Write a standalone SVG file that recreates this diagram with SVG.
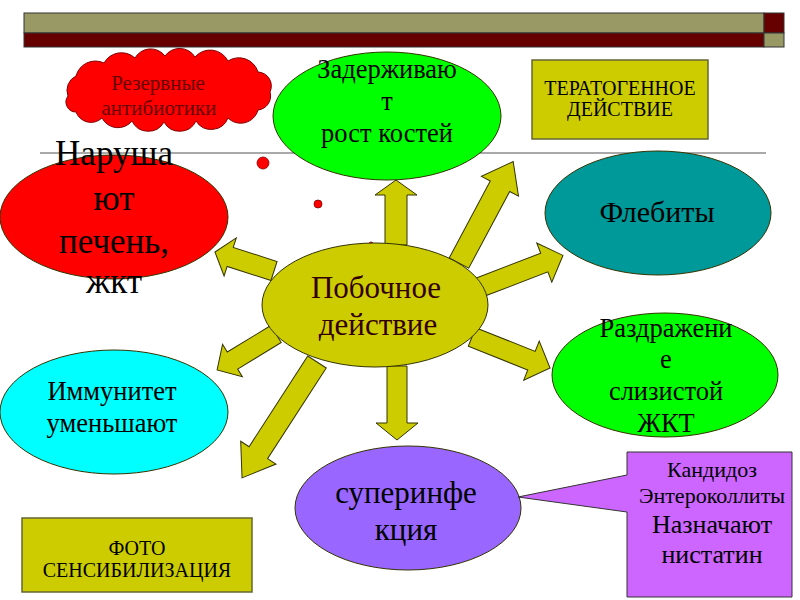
<svg xmlns="http://www.w3.org/2000/svg" width="800" height="600" viewBox="0 0 800 600" font-family="'Liberation Serif', 'DejaVu Serif', 'Times New Roman', serif">
<style>
text{font-family:'Liberation Serif','DejaVu Serif','Times New Roman',serif;text-anchor:middle;fill:#000}
.node{stroke:#333300;stroke-width:1}
.arrow{fill:#CCCC00;stroke:#333300;stroke-width:1;stroke-linejoin:miter}
.box{fill:#CCCC00;stroke:#666633;stroke-width:1.5}
</style>
<rect width="800" height="600" fill="#fff"/>
<g id="topbar">
<rect x="24" y="13" width="740" height="20" fill="#999966" stroke="#333" stroke-width="1"/>
<rect x="24" y="33" width="740" height="14" fill="#660000" stroke="#333" stroke-width="1"/>
<rect x="764" y="13" width="20" height="20" fill="#660000" stroke="#333" stroke-width="1"/>
<rect x="764" y="33" width="20" height="14" fill="#999966" stroke="#333" stroke-width="1"/>
</g>
<line x1="40" y1="153" x2="766" y2="153" stroke="#555" stroke-width="1.2"/>
<g id="connectors">
<path class="arrow" transform="translate(396,245) rotate(-90)" d="M0,-11 L50,-11 L50,-21 L65,0 L50,21 L50,11 L0,11 Z"/>
<path class="arrow" transform="translate(459,263) rotate(-61.9)" d="M0,-11 L87,-11 L87,-21 L115,0 L87,21 L87,11 L0,11 Z"/>
<path class="arrow" transform="translate(478,288) rotate(-21)" d="M0,-10 L71,-10 L71,-21 L91,0 L71,21 L71,10 L0,10 Z"/>
<path class="arrow" transform="translate(472,337) rotate(21.7)" d="M0,-10 L64,-10 L64,-21 L84,0 L64,21 L64,10 L0,10 Z"/>
<path class="arrow" transform="translate(397,366) rotate(90)" d="M0,-10 L57,-10 L57,-21 L74,0 L57,21 L57,10 L0,10 Z"/>
<path class="arrow" transform="translate(317,362) rotate(122.9)" d="M0,-11 L108,-11 L108,-21 L138,0 L108,21 L108,11 L0,11 Z"/>
<path class="arrow" transform="translate(276,334) rotate(148.6)" d="M0,-10 L51,-10 L51,-19 L69,0 L51,19 L51,10 L0,10 Z"/>
<path class="arrow" transform="translate(274,271) rotate(197.8)" d="M0,-10 L46,-10 L46,-20 L62,0 L46,20 L46,10 L0,10 Z"/>
</g>
<g id="dots" fill="#FF0000" stroke="#800000" stroke-width="0.8">
<circle cx="263" cy="163" r="6"/>
<circle cx="318" cy="204" r="4"/>
<circle cx="371" cy="244" r="2"/>
</g>
<g id="cloud">
<path d="M68,96 A16,16 0 0 1 76,76 A20,20 0 0 1 104,63 A20,20 0 0 1 135,58 A18,18 0 0 1 165,56 A18,18 0 0 1 195,57 A20,20 0 0 1 228,61 A20,20 0 0 1 258,72 A14,14 0 0 1 270,92 A14,14 0 0 1 258,110 A18,18 0 0 1 228,118 A18,18 0 0 1 196,121 A18,18 0 0 1 164,122 A18,18 0 0 1 132,121 A18,18 0 0 1 102,118 A16,16 0 0 1 76,112 A10,10 0 0 1 68,96 Z" fill="#FF0000" stroke="#800000" stroke-width="1"/>
<text x="158" y="90" font-size="21" style="fill:#660000">Резервные</text>
<text x="159" y="115" font-size="21" style="fill:#660000">антибиотики</text>
</g>
<g id="bones">
<ellipse class="node" cx="387" cy="116" rx="114" ry="64" fill="#00FF00"/>
<text x="387" y="78" font-size="26.5">Задерживаю</text>
<text x="387" y="110" font-size="26.5">т</text>
<text x="387" y="142" font-size="26.5">рост костей</text>
</g>
<g id="terato">
<rect class="box" x="532" y="60" width="176" height="79"/>
<text x="620" y="95" font-size="20">ТЕРАТОГЕННОЕ</text>
<text x="620" y="116" font-size="20">ДЕЙСТВИЕ</text>
</g>
<g id="liver">
<ellipse class="node" cx="114" cy="217" rx="114" ry="62" fill="#FF0000"/>
<text x="114" y="165" font-size="35">Наруша</text>
<text x="114" y="210" font-size="35">ют</text>
<text x="114" y="253" font-size="35">печень,</text>
<text x="114" y="293" font-size="35">жкт</text>
</g>
<g id="phleb">
<ellipse class="node" cx="658" cy="213" rx="113" ry="62" fill="#009999"/>
<text x="657" y="222" font-size="30">Флебиты</text>
</g>
<g id="center">
<ellipse class="node" cx="375" cy="305" rx="113" ry="62" fill="#CCCC00"/>
<text x="376" y="298" font-size="31" style="fill:#330000">Побочное</text>
<text x="378" y="335" font-size="31" style="fill:#330000">действие</text>
</g>
<g id="irrit">
<ellipse class="node" cx="665" cy="375" rx="113" ry="62" fill="#00FF00"/>
<text x="666" y="337" font-size="26.5">Раздражени</text>
<text x="666" y="368" font-size="26.5">е</text>
<text x="666" y="400" font-size="26.5">слизистой</text>
<text x="666" y="432" font-size="26.5">ЖКТ</text>
</g>
<g id="immun">
<ellipse class="node" cx="114" cy="412" rx="114" ry="62" fill="#00FFFF"/>
<text x="112" y="400" font-size="26.5">Иммунитет</text>
<text x="112" y="432" font-size="26.5">уменьшают</text>
</g>
<g id="super">
<ellipse class="node" cx="408" cy="508" rx="113" ry="62" fill="#9966FF"/>
<text x="406" y="503" font-size="31">суперинфе</text>
<text x="406" y="540" font-size="31">кция</text>
</g>
<g id="callout">
<path d="M627,452 H792 V597 H627 V512 L518,497 L627,475 Z" fill="#CC66FF" stroke="#333" stroke-width="1"/>
<text x="712" y="477" font-size="22">Кандидоз</text>
<text x="712" y="503" font-size="22">Энтероколлиты</text>
<text x="712" y="533" font-size="26">Назначают</text>
<text x="712" y="563" font-size="26">нистатин</text>
</g>
<g id="photo">
<rect class="box" x="22" y="518" width="230" height="74"/>
<text x="137" y="555" font-size="20">ФОТО</text>
<text x="137" y="577" font-size="20">СЕНСИБИЛИЗАЦИЯ</text>
</g>
</svg>
